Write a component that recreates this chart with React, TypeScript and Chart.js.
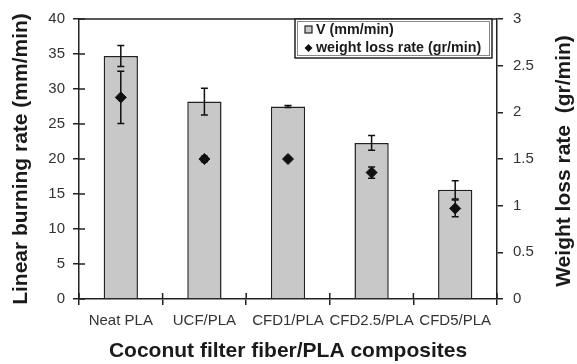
import React, { useEffect, useRef } from "react";
import { Chart, registerables } from "chart.js";

Chart.register(...registerables);

const categories = ["Neat PLA", "UCF/PLA", "CFD1/PLA", "CFD2.5/PLA", "CFD5/PLA"];
const burningRate = [34.7, 28.2, 27.5, 22.3, 15.6];
const burningErr = [1.5, 1.9, 0.15, 1.05, 1.3];
const weightLoss = [2.16, 1.5, 1.5, 1.355, 0.97];
const weightErr = [0.28, 0.03, 0.01, 0.06, 0.09];
const leftTitle = "Linear burning rate (mm/min)";
const rightTitle = "Weight loss rate  (gr/min)";
const xTitle = "Coconut filter fiber/PLA composites";
const legendLabels = ["V (mm/min)", "weight loss rate (gr/min)"];

const FONT = "'Liberation Sans', Arial, sans-serif";
const AXIS = "#222";

const extrasPlugin = {
  id: "extras",
  afterDatasetsDraw(chart: any) {
    const ctx = chart.ctx;
    const y = chart.scales.y;
    const y1 = chart.scales.y1;
    const barMeta = chart.getDatasetMeta(0);
    const ptMeta = chart.getDatasetMeta(1);
    ctx.save();
    ctx.strokeStyle = "#111";
    ctx.lineWidth = 1.5;
    const cap = 3.5;
    const drawErr = (x: number, top: number, bot: number) => {
      ctx.beginPath();
      ctx.moveTo(x, top);
      ctx.lineTo(x, bot);
      ctx.moveTo(x - cap, top);
      ctx.lineTo(x + cap, top);
      ctx.moveTo(x - cap, bot);
      ctx.lineTo(x + cap, bot);
      ctx.stroke();
    };
    burningRate.forEach((v, i) => {
      const x = barMeta.data[i].x;
      drawErr(x, y.getPixelForValue(v + burningErr[i]), y.getPixelForValue(v - burningErr[i]));
    });
    weightLoss.forEach((v, i) => {
      const x = ptMeta.data[i].x;
      drawErr(x, y1.getPixelForValue(v + weightErr[i]), y1.getPixelForValue(v - weightErr[i]));
    });
    ctx.restore();
  },
  afterDraw(chart: any) {
    const ctx = chart.ctx;
    const area = chart.chartArea;
    const xs = chart.scales.x;
    const ys = chart.scales.y;
    ctx.save();
    ctx.strokeStyle = AXIS;
    ctx.lineWidth = 1.5;
    // top frame
    ctx.beginPath();
    ctx.moveTo(area.left, area.top);
    ctx.lineTo(area.right, area.top);
    ctx.stroke();
    // inner halves of crossing ticks
    ctx.beginPath();
    ys.ticks.forEach((t: any) => {
      const p = ys.getPixelForValue(t.value);
      ctx.moveTo(area.left, p);
      ctx.lineTo(area.left + 6, p);
    });
    for (let i = 0; i <= categories.length; i++) {
      const p = xs.getPixelForValue(i - 0.5);
      ctx.moveTo(p, area.bottom);
      ctx.lineTo(p, area.bottom - 6);
    }
    ctx.stroke();

    // right title, reading bottom-to-top
    ctx.fillStyle = "#1a1a1a";
    ctx.font = `bold 21px ${FONT}`;
    ctx.textAlign = "center";
    ctx.textBaseline = "middle";
    ctx.translate(chart.scales.y1.right - 13, (area.top + area.bottom) / 2 + 2);
    ctx.rotate(-Math.PI / 2);
    ctx.fillText(rightTitle, 0, 0);
    ctx.restore();

    // legend
    ctx.save();
    const lx = 295, ly = 19, lw = 197, lh = 39;
    ctx.fillStyle = "#fff";
    ctx.fillRect(lx, ly, lw, lh);
    ctx.strokeStyle = "#222";
    ctx.lineWidth = 1.5;
    ctx.strokeRect(lx, ly, lw, lh);
    ctx.strokeStyle = "#888";
    ctx.lineWidth = 1;
    ctx.strokeRect(lx + 2.5, ly + 2.5, lw - 5, lh - 5);
    // square
    ctx.fillStyle = "#c8c8c8";
    ctx.fillRect(305, 26, 7, 7);
    ctx.strokeStyle = "#222";
    ctx.lineWidth = 1.2;
    ctx.strokeRect(305, 26, 7, 7);
    // diamond
    ctx.fillStyle = "#111";
    ctx.beginPath();
    ctx.moveTo(308.5, 44);
    ctx.lineTo(312.5, 48);
    ctx.lineTo(308.5, 52);
    ctx.lineTo(304.5, 48);
    ctx.closePath();
    ctx.fill();
    ctx.fillStyle = "#1a1a1a";
    ctx.font = `bold 14.3px ${FONT}`;
    ctx.textAlign = "left";
    ctx.textBaseline = "middle";
    ctx.fillText(legendLabels[0], 316, 30);
    ctx.fillText(legendLabels[1], 316, 48.5);
    ctx.restore();
  },
};

export default function App() {
  const ref = useRef<HTMLCanvasElement | null>(null);
  useEffect(() => {
    if (!ref.current) return;
    Chart.defaults.font.family = FONT;
    const chart = new Chart(ref.current, {
      type: "bar",
      data: {
        labels: categories,
        datasets: [
          {
            type: "bar",
            label: legendLabels[0],
            data: burningRate,
            backgroundColor: "#c8c8c8",
            borderColor: "#222",
            borderWidth: 1.5,
            barPercentage: 0.41,
            categoryPercentage: 1,
            yAxisID: "y",
            order: 2,
          },
          {
            type: "line",
            label: legendLabels[1],
            data: weightLoss,
            showLine: false,
            pointStyle: "rectRot",
            pointRadius: 5.5,
            backgroundColor: "#111",
            borderColor: "#111",
            borderWidth: 1,
            yAxisID: "y1",
            order: 1,
          } as any,
        ],
      },
      options: {
        responsive: false,
        animation: false,
        devicePixelRatio: 1,
        layout: { padding: { top: 15, left: 0, right: 0, bottom: 0 } },
        plugins: { legend: { display: false }, tooltip: { enabled: false } },
        scales: {
          x: {
            offset: true,
            grid: { display: true, drawOnChartArea: false, drawTicks: true, tickLength: 6, color: AXIS, lineWidth: 1.5, offset: true },
            border: { display: true, color: AXIS, width: 1.5 },
            ticks: { color: "#333", font: { size: 15 }, padding: 7, maxRotation: 0, autoSkip: false },
            title: { display: true, text: xTitle, color: "#1a1a1a", font: { size: 21, weight: "bold" }, padding: { top: 0, bottom: 0 } },
            afterFit: (s: any) => { s.width = s.width; s.height = 65; },
          },
          y: {
            position: "left",
            min: 0,
            max: 40,
            ticks: { stepSize: 5, color: "#333", font: { size: 15 }, padding: 8 },
            grid: { display: true, drawOnChartArea: false, tickLength: 6, color: AXIS, lineWidth: 1.5 },
            border: { display: true, color: AXIS, width: 1.5 },
            title: { display: true, text: leftTitle, color: "#1a1a1a", font: { size: 21, weight: "bold" }, padding: { top: 9, bottom: 0 } },
            afterFit: (s: any) => { s.width = 79; },
          },
          y1: {
            position: "right",
            min: 0,
            max: 3,
            ticks: {
              stepSize: 0.5,
              color: "#333",
              font: { size: 15 },
              padding: 10,
              callback: (v: any) => String(Number(v)),
            },
            grid: { display: true, drawOnChartArea: false, tickLength: 6, color: AXIS, lineWidth: 1.5 },
            border: { display: true, color: AXIS, width: 1.5 },
            afterFit: (s: any) => { s.width = 80; },
          },
        },
      } as any,
      plugins: [extrasPlugin],
    });
    return () => chart.destroy();
  }, []);
  return (
    <div style={{ position: "absolute", left: 0, top: 0, width: 577, height: 364, background: "#fff" }}>
      <canvas ref={ref} width={577} height={364} style={{ display: "block" }} />
    </div>
  );
}
